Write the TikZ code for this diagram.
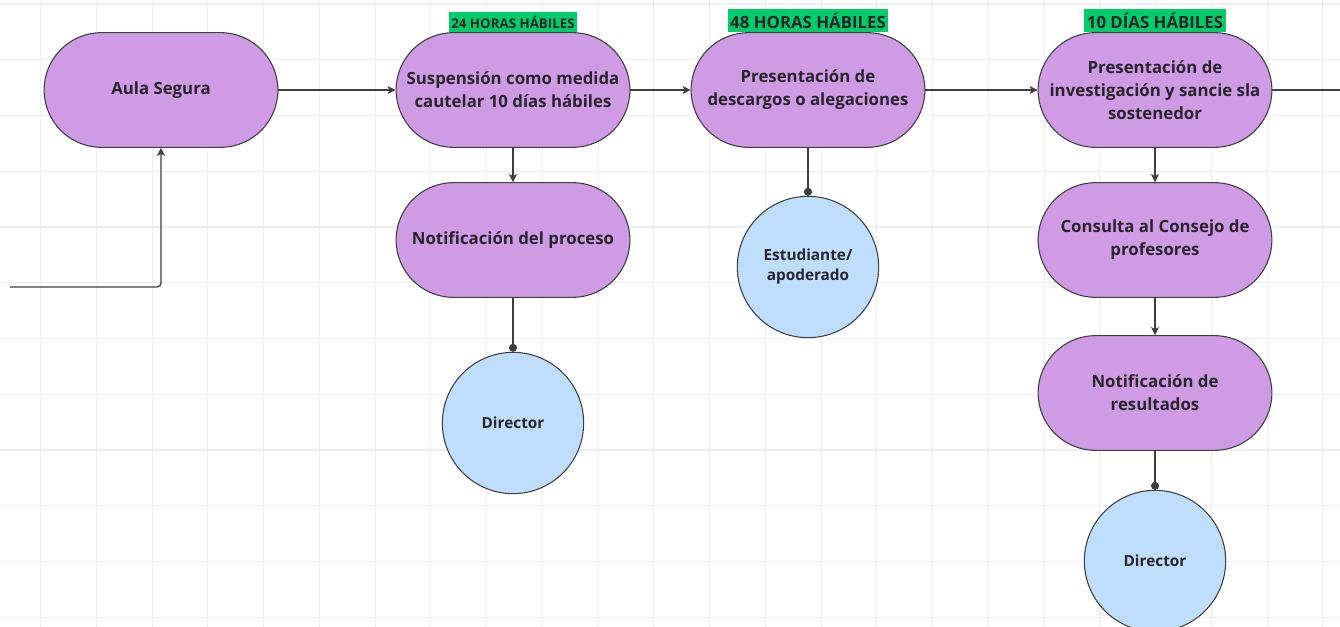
\documentclass[tikz,border=0pt]{standalone}
\usepackage{fontspec}
\setmainfont{Open Sans}
\usetikzlibrary{
    arrows.meta,
    positioning,
    shapes.misc,
}

\definecolor{stagepurple}{RGB}{207,155,228}
\definecolor{actorblue}{RGB}{191,222,253}
\definecolor{deadlinegreen}{RGB}{0,204,106}
\definecolor{linegray}{RGB}{62,62,62}
\definecolor{textdark}{RGB}{40,36,44}
\definecolor{gridgray}{RGB}{238,238,238}

\tikzset{
    stage/.style={rounded rectangle, draw=linegray, fill=stagepurple, line width=0.8pt,
        minimum width=182pt, minimum height=86pt, align=center, text=textdark,
        font=\bfseries\fontsize{12.6}{17.3}\selectfont},
    actor/.style={circle, draw=linegray, fill=actorblue, line width=0.8pt,
        minimum size=106pt, align=center, text=textdark,
        font=\bfseries\fontsize{11.5}{15}\selectfont},
    deadline/.style={fill=deadlinegreen, inner xsep=2pt, inner ysep=0pt,
        minimum height=17pt, text=textdark, font=\bfseries\fontsize{12.6}{14}\selectfont},
    flow/.style={draw=linegray, line width=1pt, -{Stealth[length=6pt,width=6pt,inset=1.5pt]}},
    link/.style={draw=linegray, line width=1pt, -{Circle[length=6pt]}},
    plain/.style={draw=linegray, line width=1pt},
    gridline/.style={draw=gridgray, line width=0.8pt},
}

\begin{document}
\begin{tikzpicture}[x=0.75pt, y=-0.75pt]
        \fill[white] (0,0) rectangle (1340,627);
        \useasboundingbox (0,0) rectangle (1340,627);
        \foreach \gx in {0,...,23}
            \draw[gridline] ({40.7+55.75*\gx},0) -- ({40.7+55.75*\gx},627);
        \foreach \gy in {0,...,11}
            \draw[gridline] (0,{4+55.75*\gy}) -- (1340,{4+55.75*\gy});

        \node[stage] (aula) at (161,90) {Aula Segura};
        \node[stage] (susp) at (513,90) {Suspensión como medida\\cautelar 10 días hábiles};
        \node[stage] (desc) at (808,90) {Presentación de\\descargos o alegaciones};
        \node[stage] (inv) at (1155,90) {Presentación de\\investigación y sancie sla\\sostenedor};
        \node[stage] (notif) at (513,240) {Notificación del proceso};
        \node[stage] (cons) at (1155,240) {Consulta al Consejo de\\profesores};
        \node[stage] (notres) at (1155,393) {Notificación de\\resultados};

        \node[actor] (dir1) at (513,423) {Director};
        \node[actor] (est) at (808,267) {Estudiante/\\apoderado};
        \node[actor] (dir2) at (1155,561) {Director};

        \node[deadline, font=\bfseries\fontsize{10}{12}\selectfont, minimum height=15pt,
            above=0pt of susp] (t24) {24 HORAS HÁBILES};
        \node[deadline, above=0pt of desc] (t48) {48 HORAS HÁBILES};
        \node[deadline, above=0pt of inv] (t10) {10 DÍAS HÁBILES};

        \coordinate (entry) at (10,287);
        \coordinate (exit) at (1340,90);

        \draw[flow, rounded corners=3pt] (entry) -| (aula.south);
        \draw[flow] (aula.east) -- (susp.west);
        \draw[flow] (susp.east) -- (desc.west);
        \draw[flow] (desc.east) -- (inv.west);
        \draw[plain] (inv.east) -- (exit);
        \draw[flow] (susp.south) -- (notif.north);
        \draw[link] (notif.south) -- (dir1.north);
        \draw[link] (desc.south) -- (est.north);
        \draw[flow] (inv.south) -- (cons.north);
        \draw[flow] (cons.south) -- (notres.north);
        \draw[link] (notres.south) -- (dir2.north);
    \end{tikzpicture}
\end{document}
